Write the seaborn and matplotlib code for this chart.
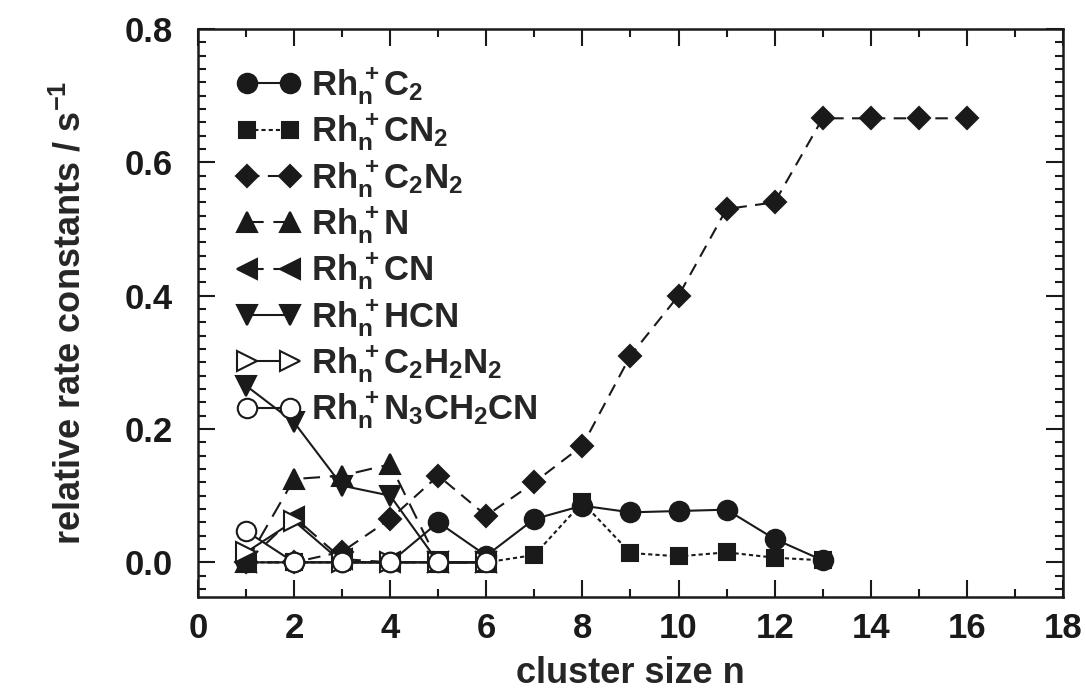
import matplotlib
matplotlib.use("Agg")
import matplotlib.pyplot as plt
import seaborn as sns
import pandas as pd
from matplotlib.ticker import MultipleLocator

# ---- data ----
n_c2 = [1, 2, 3, 4, 5, 6, 7, 8, 9, 10, 11, 12, 13]
k_c2 = [0, 0, 0, 0, 0.060, 0.010, 0.065, 0.085, 0.075, 0.077, 0.079, 0.035, 0.003]
n_cn2 = [1, 2, 3, 4, 5, 6, 7, 8, 9, 10, 11, 12, 13]
k_cn2 = [0, 0, 0, 0, 0, 0, 0.011, 0.090, 0.014, 0.009, 0.015, 0.007, 0.003]
n_c2n2 = [1, 2, 3, 4, 5, 6, 7, 8, 9, 10, 11, 12, 13, 14, 15, 16]
k_c2n2 = [0, 0, 0.016, 0.065, 0.130, 0.070, 0.120, 0.175, 0.310, 0.400, 0.530, 0.540,
          0.666, 0.666, 0.666, 0.666]
n_n = [1, 2, 3, 4, 5, 6]
k_n = [0, 0.125, 0.130, 0.147, 0, 0]
n_cn = [1, 2, 3, 4, 5, 6]
k_cn = [0, 0.068, 0.005, 0, 0, 0]
n_hcn = [1, 2, 3, 4, 5, 6]
k_hcn = [0.265, 0.210, 0.115, 0.100, 0, 0]
n_c2h2n2 = [1, 2, 3, 4, 5, 6]
k_c2h2n2 = [0.015, 0.062, 0, 0, 0, 0]
n_n3 = [1, 2, 3, 4, 5, 6]
k_n3 = [0.047, 0, 0, 0, 0, 0]

labels = [r"$Rh_n^+C_2$", r"$Rh_n^+CN_2$", r"$Rh_n^+C_2N_2$", r"$Rh_n^+N$",
          r"$Rh_n^+CN$", r"$Rh_n^+HCN$", r"$Rh_n^+C_2H_2N_2$", r"$Rh_n^+N_3CH_2CN$"]
xtick_vals = [0, 2, 4, 6, 8, 10, 12, 14, 16, 18]
xtick_labels = ["0", "2", "4", "6", "8", "10", "12", "14", "16", "18"]
ytick_vals = [0.0, 0.2, 0.4, 0.6, 0.8]
ytick_labels = ["0.0", "0.2", "0.4", "0.6", "0.8"]

sns.set_theme(style="ticks")
plt.rcParams.update({
    "font.family": ["Liberation Sans", "DejaVu Sans"],
    "font.weight": "bold",
    "mathtext.fontset": "custom",
    "mathtext.rm": "Liberation Sans:bold",
    "mathtext.it": "Liberation Sans:bold",
    "mathtext.bf": "Liberation Sans:bold",
    "lines.scale_dashes": False,
    "axes.linewidth": 1.8,
})

fig = plt.figure(figsize=(10.86, 6.93), dpi=100)
ax = fig.add_axes([0.1823, 0.1385, 0.9788 - 0.1823, 0.9582 - 0.1385])

series = [
    (n_c2, k_c2, "o", "k", "-", 14, 4),
    (n_cn2, k_cn2, "s", "k", (0, (3, 2.2)), 12, 4),
    (n_c2n2, k_c2n2, "D", "k", (0, (9, 6)), 11, 4),
    (n_n, k_n, "^", "k", (0, (12, 7)), 14, 4),
    (n_cn, k_cn, "<", "k", (0, (12, 7)), 14, 4),
    (n_hcn, k_hcn, "v", "k", "-", 14, 4),
    (n_c2h2n2, k_c2h2n2, ">", "w", "-", 14, 5),
    (n_n3, k_n3, "o", "w", "-", 14, 6),
]

handles = []
for (xs, ys, m, fc, ls, ms, z), lab in zip(series, labels):
    df = pd.DataFrame({"n": xs, "k": ys})
    sns.lineplot(data=df, x="n", y="k", ax=ax, color="k", marker=m,
                 markersize=ms, markerfacecolor=fc, markeredgecolor="k",
                 markeredgewidth=1.5, linewidth=1.5, linestyle=ls, zorder=z,
                 label=lab, legend=False)
    handles.append(ax.get_lines()[-1])

ax.set_xlim(0, 18)
ax.set_ylim(-0.052, 0.8)
ax.xaxis.set_minor_locator(MultipleLocator(1))
ax.yaxis.set_minor_locator(MultipleLocator(0.02))
ax.set_xticks(xtick_vals)
ax.set_xticklabels(xtick_labels)
ax.set_yticks(ytick_vals)
ax.set_yticklabels(ytick_labels)
ax.tick_params(which="both", direction="in", top=True, right=True,
               labelsize=25, width=1.5, colors="k")
ax.tick_params(which="major", length=12)
ax.tick_params(which="minor", length=6)
ax.tick_params(axis="y", which="major", pad=18)
ax.tick_params(axis="x", which="major", pad=11)
for lab in ax.get_xticklabels() + ax.get_yticklabels():
    lab.set_fontweight("bold")

ax.set_xlabel("cluster size n", fontsize=26, fontweight="bold", labelpad=8)
ax.set_ylabel(r"relative rate constants / s$^{-1}$", fontsize=26,
              fontweight="bold", labelpad=26)
for s in ax.spines.values():
    s.set_color("k")

leg = ax.legend(handles, labels, loc="upper left", bbox_to_anchor=(0.045, 0.936),
                frameon=False, numpoints=2, fontsize=25, handlelength=1.84,
                handletextpad=0.3, labelspacing=0.14, borderaxespad=0.0,
                borderpad=0.0)

fig.savefig("out.png", dpi=100, facecolor="white")
